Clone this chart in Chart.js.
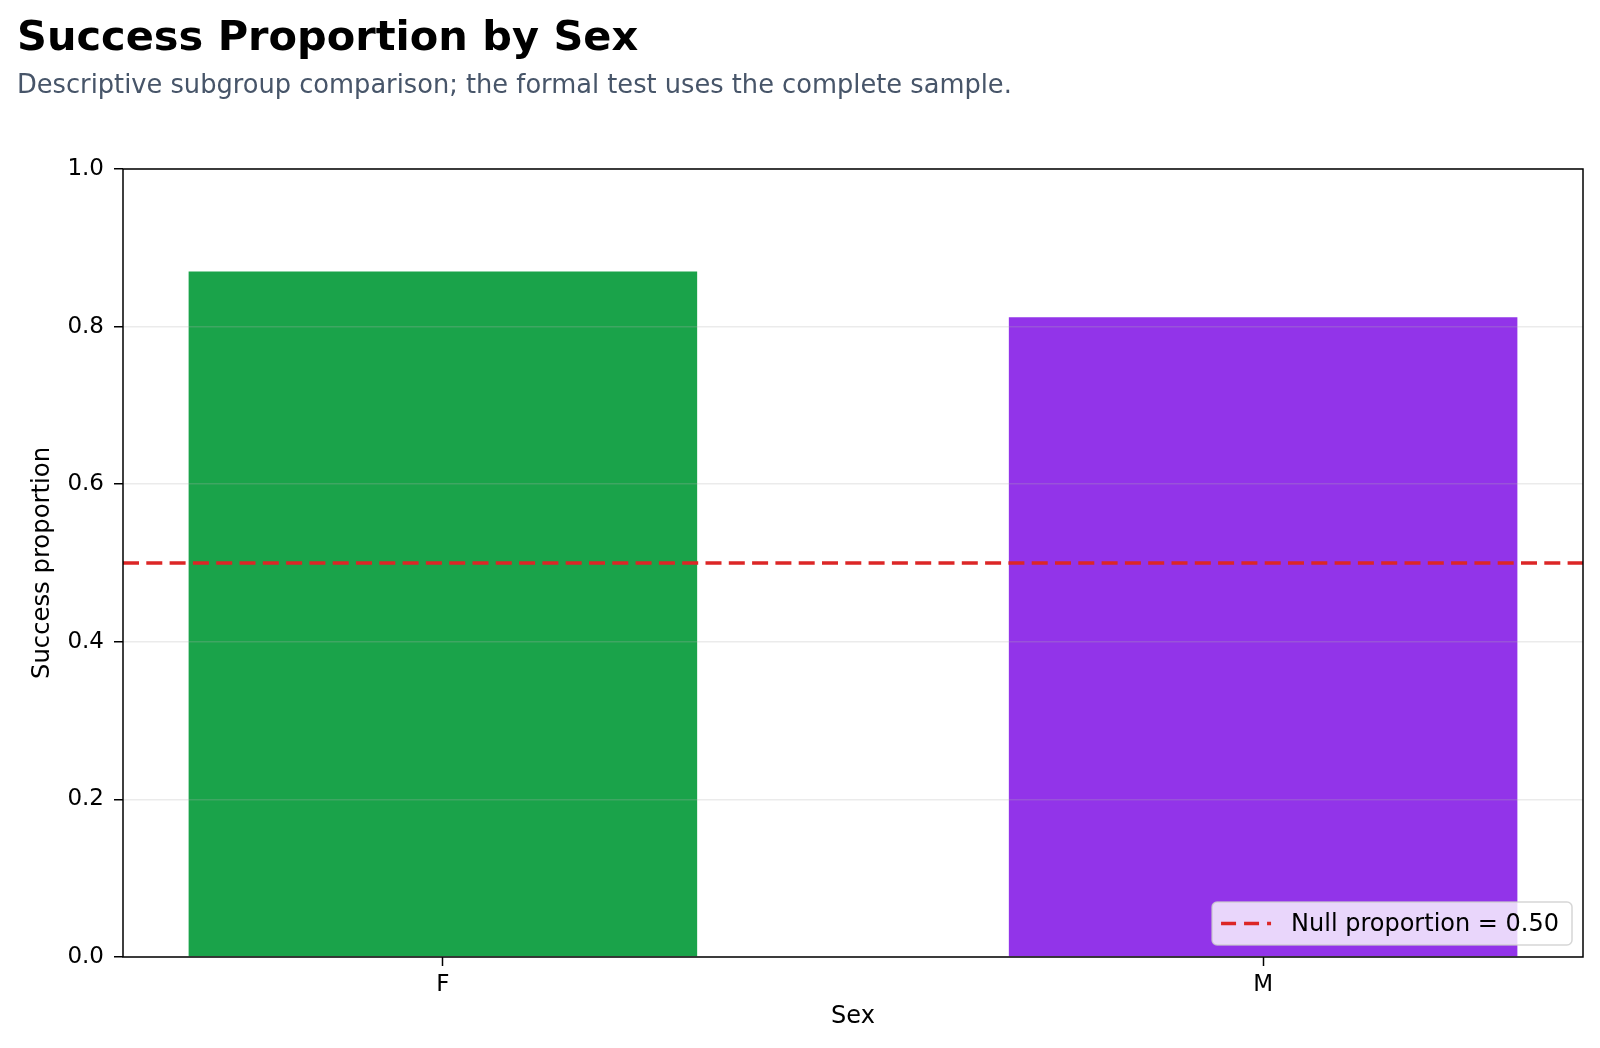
<!DOCTYPE html>
<html>
<head>
<meta charset="utf-8">
<script src="https://cdn.jsdelivr.net/npm/chart.js@4.4.1/dist/chart.umd.min.js"></script>
<style>
  html, body { margin: 0; padding: 0; background: #fff; }
  #wrap { width: 1600px; height: 1048px; position: relative; }
</style>
</head>
<body>
<div id="wrap"><canvas id="chart1" width="1600" height="1048"></canvas></div>
<script>
// data
var sexLabels = ['F', 'M'];
var successProportion = [0.87, 0.812];
var barColors = ['#1aa34a', '#9234e9'];
var nullProportion = 0.50;
var yTicks = [0, 0.2, 0.4, 0.6, 0.8, 1.0];

var FONT = "'DejaVu Sans', 'Liberation Sans', sans-serif";
var X_MIN = -0.39, X_MAX = 1.39;

// bars go on a linear x scale so the outer margins match the original
var barPoints = [];
for (i = 0; i < sexLabels.length; i++) {
    barPoints.push({x: i, y: successProportion[i]});
}
var nullLine = [{x: X_MIN, y: nullProportion}, {x: X_MAX, y: nullProportion}];

//Title, subtitle, frame and the legend box inside the plot
var decorPlugin = {
    id: 'decor',
    afterDraw: function(chart) {
        var ctx = chart.ctx;
        var area = chart.chartArea;
        ctx.save();
        ctx.textBaseline = 'alphabetic';
        ctx.textAlign = 'left';
        ctx.fillStyle = '#000';
        ctx.font = 'bold 41.5px ' + FONT;
        ctx.fillText('Success Proportion by Sex', 17, 50);
        ctx.fillStyle = '#475569';
        ctx.font = '25.7px ' + FONT;
        ctx.fillText('Descriptive subgroup comparison; the formal test uses the complete sample.', 17, 93);

        // all four spines
        ctx.strokeStyle = '#000';
        ctx.lineWidth = 1.5;
        ctx.strokeRect(area.left, area.top, area.right - area.left, area.bottom - area.top);

        // legend
        var label = 'Null proportion = ' + nullProportion.toFixed(2);
        ctx.font = '24px ' + FONT;
        var tw = ctx.measureText(label).width;
        var boxW = 9 + 50 + 20 + tw + 13;
        var boxH = 43;
        var bx = area.right - 11 - boxW;
        var by = area.bottom - 12 - boxH;
        ctx.beginPath();
        ctx.roundRect(bx, by, boxW, boxH, 5);
        ctx.fillStyle = 'rgba(255,255,255,0.8)';
        ctx.fill();
        ctx.strokeStyle = 'rgba(204,204,204,0.8)';
        ctx.lineWidth = 1.5;
        ctx.stroke();
        ctx.beginPath();
        ctx.setLineDash([15, 8]);
        ctx.strokeStyle = '#dc2626';
        ctx.lineWidth = 3.5;
        ctx.moveTo(bx + 9, by + boxH / 2);
        ctx.lineTo(bx + 59, by + boxH / 2);
        ctx.stroke();
        ctx.setLineDash([]);
        ctx.fillStyle = '#000';
        ctx.textBaseline = 'middle';
        ctx.fillText(label, bx + 79, by + boxH / 2 + 1);
        ctx.restore();
    }
};

const CHART1 = document.getElementById('chart1');
let successChart = new Chart(CHART1, {
    type: 'bar',
    data: {
        datasets: [
            {
                type: 'line',
                label: 'Null proportion = 0.50',
                data: nullLine,
                borderColor: '#dc2626',
                borderWidth: 3.5,
                borderDash: [16, 7.3],
                pointRadius: 0,
                fill: false,
                order: 0
            },
            {
                label: 'Success proportion',
                data: barPoints,
                backgroundColor: barColors,
                borderWidth: 0,
                barPercentage: 0.62,
                categoryPercentage: 1,
                order: 1
            }
        ]
    },
    options: {
        responsive: false,
        animation: false,
        devicePixelRatio: 1,
        layout: { padding: { left: 0, top: 169, right: 17, bottom: 0 } },
        plugins: {
            legend: { display: false },
            tooltip: { enabled: false }
        },
        scales: {
            x: {
                type: 'linear',
                min: X_MIN,
                max: X_MAX,
                offset: false,
                afterBuildTicks: function(axis) {
                    axis.ticks = sexLabels.map(function(l, i) { return {value: i}; });
                },
                afterFit: function(axis) { axis.height = 91; },
                ticks: {
                    autoSkip: false,
                    maxRotation: 0,
                    padding: 5,
                    color: '#000',
                    font: { family: FONT, size: 23 },
                    callback: function(v) { return sexLabels[v]; }
                },
                grid: {
                    offset: false,
                    drawOnChartArea: false,
                    tickColor: '#000',
                    tickLength: 9,
                    tickWidth: 1.5
                },
                border: { display: false },
                title: {
                    display: true,
                    text: 'Sex',
                    color: '#000',
                    font: { family: FONT, size: 24 },
                    padding: { top: 0, bottom: 16.5 }
                }
            },
            y: {
                min: 0,
                max: 1,
                afterBuildTicks: function(axis) {
                    axis.ticks = yTicks.map(function(v) { return {value: v}; });
                },
                afterFit: function(axis) { axis.width = 123; },
                ticks: {
                    padding: 10,
                    color: '#000',
                    font: { family: FONT, size: 23 },
                    callback: function(v) { return v.toFixed(1); }
                },
                grid: {
                    z: 1,
                    color: 'rgba(176,176,176,0.25)',
                    lineWidth: 1.5,
                    tickColor: '#000',
                    tickLength: 9,
                    tickWidth: 1.5
                },
                border: { display: false },
                title: {
                    display: true,
                    text: 'Success proportion',
                    color: '#000',
                    font: { family: FONT, size: 24.3 },
                    padding: { top: 28.5, bottom: 0 }
                }
            }
        }
    },
    plugins: [decorPlugin]
});
</script>
</body>
</html>
